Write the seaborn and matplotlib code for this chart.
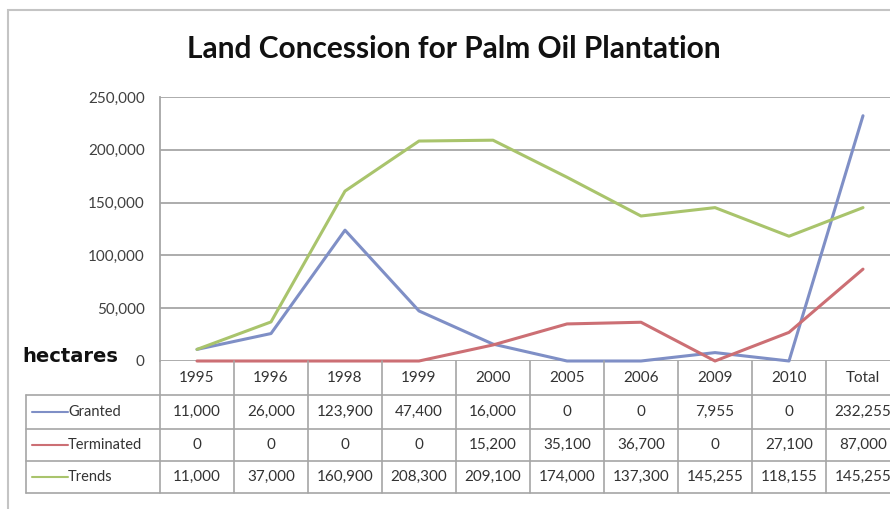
import matplotlib
matplotlib.use("Agg")
import matplotlib.pyplot as plt
import matplotlib.transforms as mtransforms
from matplotlib.ticker import FuncFormatter, MultipleLocator
import seaborn as sns
import pandas as pd

# Data
categories = ["1995", "1996", "1998", "1999", "2000", "2005", "2006", "2009", "2010", "Total"]
granted = [11000, 26000, 123900, 47400, 16000, 0, 0, 7955, 0, 232255]
terminated = [0, 0, 0, 0, 15200, 35100, 36700, 0, 27100, 87000]
trends = [11000, 37000, 160900, 208300, 209100, 174000, 137300, 145255, 118155, 145255]
series_names = ["Granted", "Terminated", "Trends"]
series_colors = ["#7f8fc6", "#cc6f74", "#a9c46c"]

sns.set_theme(style="white")
plt.rcParams["font.family"] = ["Lato", "DejaVu Sans"]

W, H = 890, 509
fig = plt.figure(figsize=(W / 100, H / 100), dpi=100)
fig.patch.set_facecolor("white")

# outer chart frame
fig.add_artist(plt.Rectangle((8 / W, -0.1), 1.2, (H - 10) / H + 0.1,
                             transform=fig.transFigure, fill=False,
                             edgecolor="#c4c4c4", linewidth=1.5))

# plot area (extends past the right edge of the figure)
left_px, right_px, top_px, bottom_px = 160, 900, 97, 361
ax = fig.add_axes([left_px / W, (H - bottom_px) / H,
                   (right_px - left_px) / W, (bottom_px - top_px) / H])

df = pd.DataFrame({"Year": categories, "Granted": granted,
                   "Terminated": terminated, "Trends": trends})
long = df.melt(id_vars="Year", var_name="Series", value_name="Hectares")
long["pos"] = long["Year"].map({c: i for i, c in enumerate(categories)})

sns.lineplot(data=long, x="pos", y="Hectares", hue="Series",
             hue_order=series_names, palette=series_colors,
             linewidth=2.2, legend=False, ax=ax, clip_on=False)

ax.set_xlim(-0.5, len(categories) - 0.5)
ax.set_ylim(0, 250000)
ax.yaxis.set_major_locator(MultipleLocator(50000))
ax.yaxis.set_major_formatter(FuncFormatter(lambda v, p: f"{int(v):,}"))
ax.set_xticks([])
ax.set_xlabel("")
ax.set_ylabel("")
ax.grid(axis="y", color="#a6a6a6", linewidth=1.3)
ax.set_axisbelow(True)
for side in ["top", "right", "bottom"]:
    ax.spines[side].set_visible(False)
ax.spines["left"].set_color("#a6a6a6")
ax.spines["left"].set_linewidth(1.3)
ax.tick_params(axis="y", length=0, pad=11, labelsize=11, labelcolor="#404040")

fig.text(0.5 * (190 + 717) / W, 1 - 49 / H, "Land Concession for Palm Oil Plantation",
         ha="center", va="center", fontsize=21.5, fontweight="bold", color="#111111")
fig.text(22 / W, 1 - 356 / H, "hectares", ha="left", va="center",
         fontsize=14, fontweight="bold", color="#111111", family="DejaVu Sans")

# data table beneath the plot area
trans = mtransforms.blended_transform_factory(ax.transData, fig.transFigure)
row_px = [361, 395, 429, 461, 493]
row_y = [1 - r / H for r in row_px]
n = len(categories)
label_left = -0.5 - (left_px - 26) / ((right_px - left_px) / n)
line_kw = dict(color="#a6a6a6", linewidth=1.2, transform=trans, clip_on=False)

# horizontal rules
for y in row_y[1:]:
    ax.plot([label_left, n - 0.5], [y, y], **line_kw)
# vertical rules
for i in range(n + 1):
    ax.plot([i - 0.5, i - 0.5], [row_y[0], row_y[-1]], **line_kw)
ax.plot([label_left, label_left], [row_y[1], row_y[-1]], **line_kw)

text_kw = dict(transform=trans, ha="center", va="center", fontsize=11,
               color="#333333", clip_on=False)
for i, c in enumerate(categories):
    ax.text(i, 0.5 * (row_y[0] + row_y[1]), c, **text_kw)

rows = [granted, terminated, trends]
for r, (name, vals, col) in enumerate(zip(series_names, rows, series_colors)):
    yc = 0.5 * (row_y[r + 1] + row_y[r + 2])
    for i, v in enumerate(vals):
        ax.text(i, yc, f"{v:,}", **text_kw)
    x0 = label_left + 6 / 74
    x1 = label_left + 42 / 74
    ax.plot([x0, x1], [yc, yc], color=col, linewidth=1.5, transform=trans, clip_on=False)
    ax.text(x1, yc, name, transform=trans, ha="left", va="center",
            fontsize=10.5, color="#333333", clip_on=False)

fig.savefig("out.png", dpi=100, facecolor="white")
